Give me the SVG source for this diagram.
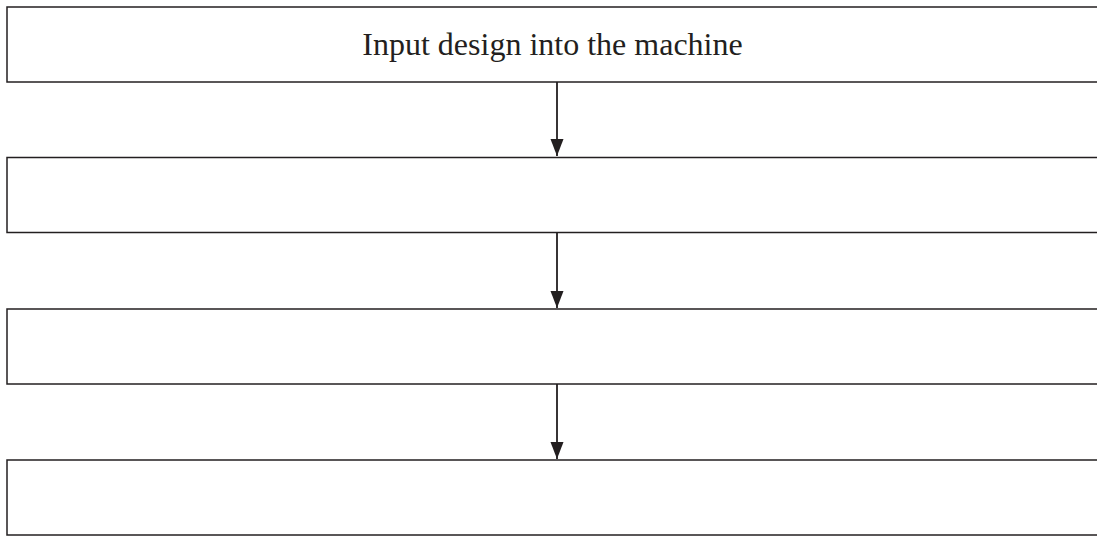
<svg xmlns="http://www.w3.org/2000/svg" width="1097" height="536" viewBox="0 0 1097 536">
<style>
.box{fill:#fff;stroke:#231f20;stroke-width:1.5}
.conn{stroke:#231f20;stroke-width:1.8;fill:none}
.label{font-family:"Liberation Serif","Times New Roman",serif;font-size:32px;fill:#231f20;text-anchor:middle}
</style>
<defs>
<marker id="ah" markerUnits="userSpaceOnUse" markerWidth="18" markerHeight="14" refX="17" refY="6.5" orient="auto">
<path d="M0,0 L17,6.5 L0,13 Z" fill="#231f20"/>
</marker>
</defs>
<rect width="1097" height="536" fill="#fff"/>
<g id="node1"><rect class="box" x="7" y="7" width="1100" height="75"/><text class="label" x="552.5" y="55">Input design into the machine</text></g>
<g id="node2"><rect class="box" x="7" y="157.5" width="1100" height="75"/></g>
<g id="node3"><rect class="box" x="7" y="309" width="1100" height="75"/></g>
<g id="node4"><rect class="box" x="7" y="460" width="1100" height="75"/></g>
<g id="connectors">
<line class="conn" x1="557" y1="82" x2="557" y2="156" marker-end="url(#ah)"/>
<line class="conn" x1="557" y1="232.5" x2="557" y2="308" marker-end="url(#ah)"/>
<line class="conn" x1="557" y1="384" x2="557" y2="459" marker-end="url(#ah)"/>
</g>
</svg>
